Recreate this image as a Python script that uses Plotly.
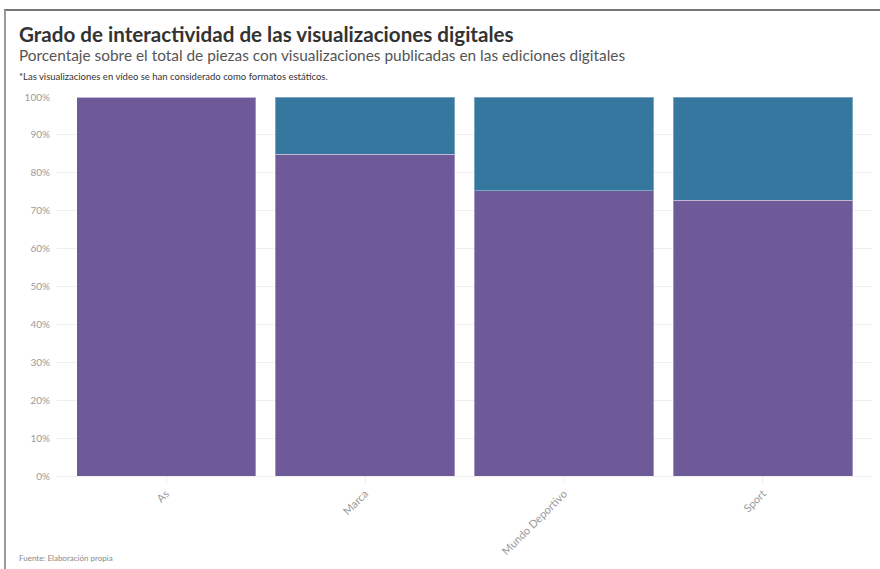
import plotly.graph_objects as go

# Diarios analizados y porcentaje de piezas por tipo de visualización
medios = ["As", "Marca", "Mundo Deportivo", "Sport"]
estaticas = [100, 84.9, 75.2, 72.7]
interactivas = [0, 15.1, 24.8, 27.3]

titulo = "Grado de interactividad de las visualizaciones digitales"
subtitulo = "Porcentaje sobre el total de piezas con visualizaciones publicadas en las ediciones digitales"
nota = "*Las visualizaciones en vídeo se han considerado como formatos estáticos."
fuente = "Fuente: Elaboración propia"

W, H = 880, 569
L, R, T, B = 57, 872, 97, 476  # plot area in pixels


def px(x):
    return (x - L) / (R - L)


def py(y):
    return (B - y) / (B - T)


fig = go.Figure()
fig.add_trace(go.Bar(
    x=medios, y=estaticas, name="Estáticas",
    marker=dict(color="#6f5a99", line=dict(color="rgba(255,255,255,0.35)", width=1)),
))
fig.add_trace(go.Bar(
    x=medios, y=interactivas, name="Interactivas",
    marker=dict(color="#35779f", line=dict(color="rgba(255,255,255,0.35)", width=1)),
))

fig.update_layout(
    width=W, height=H,
    barmode="stack", bargap=0.1,
    showlegend=False,
    plot_bgcolor="white", paper_bgcolor="white",
    font=dict(family="Lato, sans-serif", color="#333"),
    margin=dict(l=L, r=W - R, t=T, b=H - B),
    xaxis=dict(
        range=[-0.548, 3.548], tickangle=-45,
        tickfont=dict(size=11, color="#9a9a9a"),
        showline=True, linecolor="#eeeeee", linewidth=1,
        ticks="outside", ticklen=6, tickcolor="#eeeeee",
        showgrid=False,
    ),
    yaxis=dict(
        range=[0, 100], dtick=10, ticksuffix="%",
        tickfont=dict(size=10, color="#9a9a9a"),
        gridcolor="#eeeeee", zeroline=False,
        ticks="outside", ticklen=4, tickcolor="white",
    ),
)

fig.add_annotation(text="<b>" + titulo + "</b>", x=px(17), y=py(34), xref="paper", yref="paper",
                   xanchor="left", yanchor="middle", showarrow=False,
                   font=dict(size=20.6, color="#333333"))
fig.add_annotation(text=subtitulo, x=px(17), y=py(55), xref="paper", yref="paper",
                   xanchor="left", yanchor="middle", showarrow=False,
                   font=dict(size=15.4, color="#555555"))
fig.add_annotation(text=nota, x=px(17), y=py(77), xref="paper", yref="paper",
                   xanchor="left", yanchor="middle", showarrow=False,
                   font=dict(size=9.5, color="#333333"))
fig.add_annotation(text=fuente, x=px(17), y=py(558), xref="paper", yref="paper",
                   xanchor="left", yanchor="middle", showarrow=False,
                   font=dict(size=8, color="#888888"))

# marco gris superior e izquierdo
fig.add_shape(type="line", xref="paper", yref="paper", x0=px(4), x1=px(880), y0=py(10), y1=py(10),
              line=dict(color="#777777", width=2))
fig.add_shape(type="line", xref="paper", yref="paper", x0=px(5), x1=px(5), y0=py(10), y1=py(569),
              line=dict(color="#999999", width=2))

# sin margen del body para que la figura ocupe la ventana
fig.write_html("out.html", config={"displayModeBar": False},
               post_script="document.body.style.margin='0';")
